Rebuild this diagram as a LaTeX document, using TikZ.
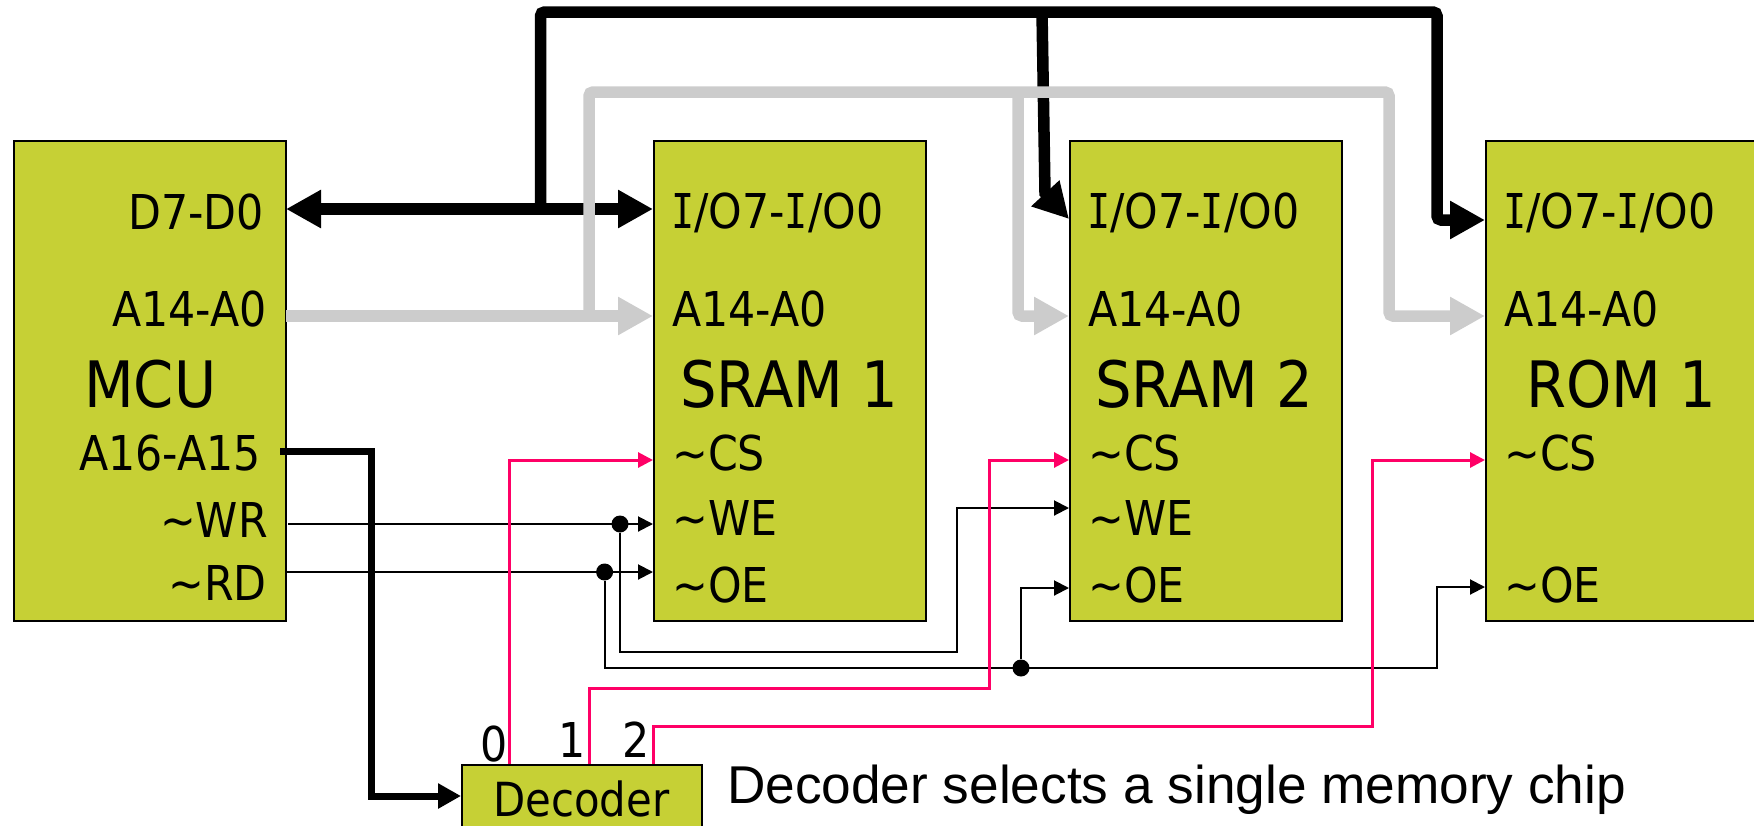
\documentclass[tikz,border=0pt]{standalone}
\usepackage{fontspec}
\setmainfont{DejaVu Sans}[FakeStretch=0.89]
\newfontfamily\titlef{DejaVu Sans}[FakeStretch=0.90]
\newfontfamily\serifI{DejaVu Sans Mono}[FakeStretch=0.80]
\newfontfamily\arialf{Liberation Sans}
\newcommand{\II}{{\serifI I}}
\usetikzlibrary{arrows.meta,calc}
\definecolor{chipgreen}{HTML}{C6D035}
\definecolor{busgray}{HTML}{CCCCCC}
\definecolor{selpink}{HTML}{FF0066}
\tikzset{
  chip/.style={draw=black,line width=1.5pt,fill=chipgreen,rectangle,inner sep=0pt,anchor=north west},
  pin/.style={font=\fontsize{48}{48}\selectfont,inner sep=0pt,anchor=base west},
  pinr/.style={font=\fontsize{48}{48}\selectfont,inner sep=0pt,anchor=base east},
  title/.style={font=\titlef\fontsize{64}{64}\selectfont,inner sep=0pt,anchor=base west},
  databus/.style={draw=black,line width=11.5pt,rounded corners=4pt,-{Triangle[length=35pt,width=36pt]}},
  addrbus/.style={draw=busgray,line width=11.5pt,rounded corners=4pt,-{Triangle[length=35pt,width=36pt]}},
  decbus/.style={draw=black,line width=7pt,-{Triangle[length=23pt,width=24pt]}},
  ctl/.style={draw=black,line width=2pt,-{Triangle[length=15pt,width=15pt]}},
  sel/.style={draw=selpink,line width=3pt,-{Triangle[length=15pt,width=15pt]}},
  junction/.style={circle,fill=black,inner sep=0pt,minimum size=17pt},
}
\begin{document}
\begin{tikzpicture}[x=1pt,y=-1pt]
\useasboundingbox (0,0) rectangle (1754,825);
% chips
\node[chip,minimum width=272pt,minimum height=480pt] (mcu) at (13,140) {};
\node[chip,minimum width=272pt,minimum height=480pt] (sram1) at (653,140) {};
\node[chip,minimum width=272pt,minimum height=480pt] (sram2) at (1069,140) {};
\node[chip,minimum width=290pt,minimum height=480pt] (rom) at (1485,140) {};
\node[chip,minimum width=240pt,minimum height=80pt] (dec) at (461,764) {};
% pin ends
\coordinate (mD) at (286,209);
\coordinate (mA) at (286,316);
\coordinate (s1D) at (653,209);
\coordinate (s1A) at (653,316);
\coordinate (s1C) at (653,460);
\coordinate (s1W) at (653,524);
\coordinate (s1O) at (653,572);
\coordinate (s2D) at (1069,219);
\coordinate (s2A) at (1069,316);
\coordinate (s2C) at (1069,460);
\coordinate (s2W) at (1069,508);
\coordinate (s2O) at (1069,588);
\coordinate (rD) at (1485,220);
\coordinate (rA) at (1485,316);
\coordinate (rC) at (1485,460);
\coordinate (rO) at (1485,587);
\coordinate (mH) at (280,451);
\coordinate (mW) at (288,524);
\coordinate (mR) at (286,572);
\coordinate (dIn) at (461,796);
\coordinate (d0) at (509,764);
\coordinate (d1) at (589,764);
\coordinate (d2) at (653,764);
\coordinate (dbTap) at (540.5,204);
\coordinate (dbTop) at (1042,12);
\coordinate (abTap) at (589,316);
\coordinate (abTop) at (1018,92);
% data bus
\draw[databus,{Triangle[length=35pt,width=36pt]}-{Triangle[length=35pt,width=36pt]}] (mD) -- (s1D);
\draw[databus] (dbTap) -- (540.5,12) -- (1437,12) -- (1437,220) -- (rD);
\draw[databus,rounded corners=0pt] (dbTop) -- (1045,193) -- (s2D);
% address bus
\draw[addrbus] (abTap) -- (589,92) -- (1389,92) -- (1389,316) -- (rA);
\draw[addrbus] (abTop) -- (1018,316) -- (s2A);
\draw[addrbus] (mA) -- (s1A);
% decoder input
\draw[decbus] (mH) -- (371,451) -- (371,796) -- (dIn);
% control
\node[junction] (jW) at (620,524) {};
\node[junction] (jR) at (604.6,572) {};
\node[junction] (jO) at (1021,668) {};
\draw[ctl] (mW) -- (s1W);
\draw[ctl] (mR) -- (s1O);
\draw[ctl] (jW) -- (620,652) -- (957,652) -- (957,508) -- (s2W);
\draw[ctl] (jR) -- (604.6,668) -- (1437,668) -- (1437,587) -- (rO);
\draw[ctl] (jO) -- (1021,588) -- (s2O);
% select
\draw[sel] (d0) -- (509,460) -- (s1C);
\draw[sel] (d1) -- (589,688) -- (989,688) -- (989,460) -- (s2C);
\draw[sel] (d2) -- (653,726) -- (1372.5,726) -- (1372.5,460) -- (rC);
% labels
\node[pinr] (lD) at (264,229) {D7-D0};
\node[pinr] (lA) at (267,326) {A14-A0};
\node[title] (lM) at (84,407) {MCU};
\node[pinr] (lH) at (261,470) {A16-A15};
\node[pinr] (lW) at (268,537) {\char"7E WR};
\node[pinr] (lR) at (267,600) {\char"7E RD};
\foreach \n/\x/\t in {a/680/SRAM 1,b/1095/SRAM 2,c/1526/ROM 1}{
  \node[title] (t\n) at (\x,407) {\t};}
\foreach \n/\x in {a/671,b/1087,c/1503}{
  \node[pin] (io\n) at (\x,228) {\II/O7-\II/O0};}
\foreach \n/\x in {a/672,b/1088,c/1504}{
  \node[pin] (ad\n) at (\x,326) {A14-A0};
  \node[pin] (cs\n) at (\x,470) {\char"7E CS};
  \node[pin] (oe\n) at (\x,602) {\char"7E OE};}
\foreach \n/\x in {a/672,b/1088}{
  \node[pin] (we\n) at (\x,535) {\char"7E WE};}
\node[pin] (n0) at (480,761) {0};
\node[pin] (n1) at (558,757) {1};
\node[pin] (n2) at (622,757) {2};
\node[pin,font=\fontsize{47}{47}\selectfont] (dt) at (493,816) {Decoder};
\node[inner sep=0pt,anchor=base west,font=\arialf\fontsize{53.2}{53.2}\selectfont] (note) at (727,803) {Decoder selects a single memory chip};
\end{tikzpicture}
\end{document}
